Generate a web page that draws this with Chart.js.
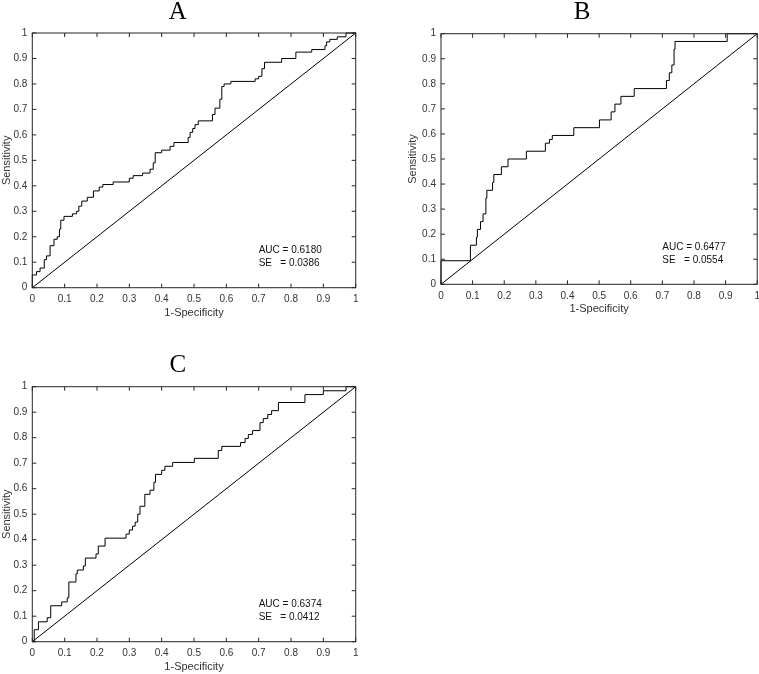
<!DOCTYPE html>
<html>
<head>
<meta charset="utf-8">
<script src="https://cdn.jsdelivr.net/npm/chart.js@4.4.1/dist/chart.umd.min.js"></script>
<style>
  html, body { margin: 0; padding: 0; background: #fff; overflow: hidden; width: 759px; height: 674px; position: relative; }
  canvas { position: absolute; }
</style>
</head>
<body>
<canvas id="rocA" width="370" height="325" style="left:0px;top:0px"></canvas>
<canvas id="rocB" width="360" height="321" style="left:406px;top:0px"></canvas>
<canvas id="rocC" width="370" height="339" style="left:0px;top:340px"></canvas>
<script>
// ROC staircase points (1-specificity, sensitivity)
const rocAX = [0, 0, 0.013, 0.024, 0.037, 0.044, 0.055, 0.067, 0.077, 0.084,
  0.088, 0.098, 0.124, 0.137, 0.144, 0.153, 0.17, 0.189, 0.207, 0.218,
  0.25, 0.30, 0.312, 0.341, 0.364, 0.374, 0.38, 0.40, 0.426, 0.438,
  0.482, 0.488, 0.496, 0.503, 0.513, 0.557, 0.565, 0.58, 0.586, 0.593,
  0.614, 0.689, 0.70, 0.71, 0.718, 0.771, 0.815, 0.864, 0.905, 0.91,
  0.92, 0.943, 0.97, 1];
const rocAY = [0, 0.05, 0.063, 0.077, 0.11, 0.125, 0.165, 0.19, 0.2, 0.23,
  0.265, 0.28, 0.29, 0.30, 0.32, 0.34, 0.355, 0.38, 0.395, 0.405,
  0.415, 0.43, 0.44, 0.45, 0.465, 0.49, 0.53, 0.54, 0.555, 0.57,
  0.59, 0.61, 0.625, 0.64, 0.655, 0.68, 0.705, 0.74, 0.79, 0.80,
  0.81, 0.82, 0.83, 0.86, 0.885, 0.9, 0.925, 0.935, 0.95, 0.965,
  0.975, 0.985, 1.0, 1.0];

const rocBX = [0, 0, 0.093, 0.112, 0.115, 0.125, 0.133, 0.142, 0.145, 0.163,
  0.167, 0.191, 0.212, 0.27, 0.33, 0.343, 0.352, 0.42, 0.501, 0.538,
  0.55, 0.569, 0.611, 0.713, 0.722, 0.73, 0.737, 0.74, 0.905, 1];
const rocBY = [0, 0.094, 0.156, 0.188, 0.219, 0.25, 0.281, 0.344, 0.375, 0.406,
  0.438, 0.469, 0.5, 0.531, 0.563, 0.578, 0.594, 0.625, 0.656, 0.688,
  0.719, 0.75, 0.781, 0.813, 0.844, 0.875, 0.938, 0.969, 1.0, 1.0];

const rocCX = [0, 0.006, 0.019, 0.046, 0.057, 0.091, 0.108, 0.113, 0.135, 0.139,
  0.158, 0.164, 0.197, 0.204, 0.225, 0.29, 0.30, 0.31, 0.318, 0.326,
  0.333, 0.348, 0.364, 0.376, 0.381, 0.40, 0.41, 0.434, 0.501, 0.575,
  0.586, 0.644, 0.658, 0.668, 0.681, 0.704, 0.714, 0.728, 0.74, 0.761,
  0.843, 0.90, 0.97, 1];
const rocCY = [0, 0.047, 0.078, 0.094, 0.141, 0.156, 0.172, 0.234, 0.266, 0.281,
  0.297, 0.328, 0.344, 0.375, 0.406, 0.422, 0.438, 0.453, 0.469, 0.5,
  0.531, 0.578, 0.594, 0.625, 0.656, 0.672, 0.688, 0.703, 0.719, 0.75,
  0.766, 0.781, 0.797, 0.813, 0.828, 0.859, 0.875, 0.891, 0.906, 0.938,
  0.969, 0.984, 1.0, 1.0];

// chance line
const diagX = [0, 1];
const diagY = [0, 1];

const panelTitles = ["A", "B", "C"];
const aucValues = ["0.6180", "0.6477", "0.6374"];
const seValues = ["0.0386", "0.0554", "0.0412"];

const sans = "'Liberation Sans', Arial, Helvetica, sans-serif";
const ink = "#262626";

function toPoints(xs, ys) {
  return xs.map((x, i) => ({ x: x, y: ys[i] }));
}

// MATLAB-like box with inward tick marks, plus the AUC/SE note
const framePlugin = {
  id: "frame",
  afterDatasetsDraw(chart, args, opts) {
    const { ctx, chartArea: a, scales } = chart;
    const sx = scales.x, sy = scales.y;
    ctx.save();
    ctx.strokeStyle = ink;
    ctx.lineWidth = 1;
    ctx.strokeRect(a.left, a.top, a.width, a.height);
    ctx.beginPath();
    sx.ticks.forEach(t => {
      const px = sx.getPixelForValue(t.value);
      ctx.moveTo(px, a.bottom); ctx.lineTo(px, a.bottom - 4);
      ctx.moveTo(px, a.top); ctx.lineTo(px, a.top + 4);
    });
    sy.ticks.forEach(t => {
      const py = sy.getPixelForValue(t.value);
      ctx.moveTo(a.left, py); ctx.lineTo(a.left + 4, py);
      ctx.moveTo(a.right, py); ctx.lineTo(a.right - 4, py);
    });
    ctx.stroke();

    ctx.fillStyle = "#111";
    ctx.font = "10px " + sans;
    ctx.textAlign = "left";
    ctx.textBaseline = "middle";
    const nx = sx.getPixelForValue(0.70);
    ctx.fillText("AUC = " + opts.auc, nx, sy.getPixelForValue(0.147));
    ctx.fillText("SE   = " + opts.se, nx, sy.getPixelForValue(0.097));
    ctx.restore();
  }
};

function makeRoc(canvasId, idx, xs, ys, box) {
  const ctx = document.getElementById(canvasId).getContext("2d");
  const canvasH = ctx.canvas.height;

  const config = {
    type: "line",
    data: {
      datasets: [{
        data: toPoints(xs, ys),
        borderColor: "#000",
        borderWidth: 1,
        pointRadius: 0,
        stepped: "before",
        clip: false
      }, {
        data: toPoints(diagX, diagY),
        borderColor: "#000",
        borderWidth: 1,
        pointRadius: 0,
        clip: false
      }]
    },
    options: {
      responsive: false,
      animation: false,
      events: [],
      layout: { padding: { left: 0, right: box.padRight, top: 0, bottom: 0 } },
      plugins: {
        legend: { display: false },
        tooltip: { enabled: false },
        title: {
          display: true,
          text: panelTitles[idx],
          color: "#000",
          font: { family: "'Liberation Serif', 'Times New Roman', serif", size: 25, weight: "normal", lineHeight: 1 },
          padding: { top: box.titleTop, bottom: box.titleBottom }
        },
        frame: { auc: aucValues[idx], se: seValues[idx] }
      },
      scales: {
        x: {
          type: "linear",
          min: 0,
          max: 1,
          grid: { display: false, drawTicks: false },
          border: { display: false },
          ticks: {
            stepSize: 0.1,
            autoSkip: false,
            maxRotation: 0,
            padding: 6,
            color: "#333",
            font: { family: sans, size: 10 },
            callback: v => String(+v.toFixed(1))
          },
          title: {
            display: true,
            text: "1-Specificity",
            color: "#333",
            font: { family: sans, size: 11 },
            padding: { top: 0, bottom: 5 }
          },
          afterFit: s => { s.height = canvasH - box.plotBottom; }
        },
        y: {
          type: "linear",
          min: 0,
          max: 1,
          grid: { display: false, drawTicks: false },
          border: { display: false },
          ticks: {
            stepSize: 0.1,
            autoSkip: false,
            padding: 5,
            color: "#333",
            font: { family: sans, size: 10 },
            callback: v => String(+v.toFixed(1))
          },
          title: {
            display: true,
            text: "Sensitivity",
            color: "#333",
            font: { family: sans, size: 11 },
            padding: 0
          },
          afterFit: s => { s.width = box.axisWidth; }
        }
      }
    },
    plugins: [framePlugin]
  };

  return new Chart(ctx, config);
}

makeRoc("rocA", 0, rocAX, rocAY, { axisWidth: 32.3, padRight: 14.3, titleTop: 0, titleBottom: 8, plotBottom: 287.7 });
makeRoc("rocB", 1, rocBX, rocBY, { axisWidth: 35, padRight: 7.7, titleTop: 0, titleBottom: 8.7, plotBottom: 284.3 });
makeRoc("rocC", 2, rocCX, rocCY, { axisWidth: 32.3, padRight: 14.3, titleTop: 12.5, titleBottom: 9.2, plotBottom: 301.7 });
</script>
</body>
</html>
